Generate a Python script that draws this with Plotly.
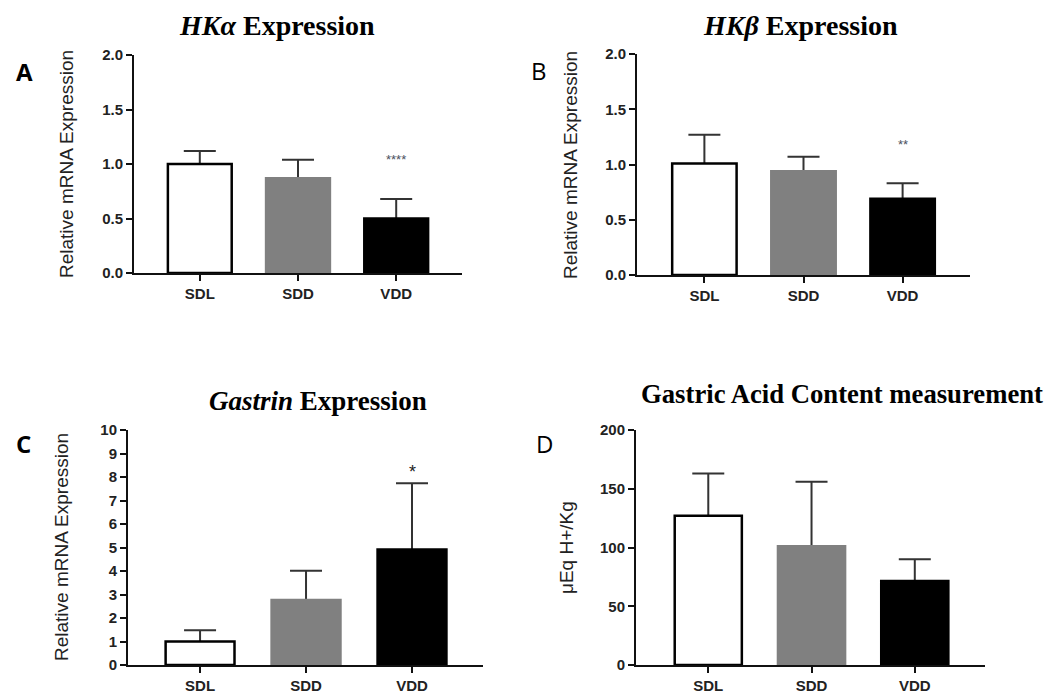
import plotly.graph_objects as go

W, H = 1064, 695

groups = ["SDL", "SDD", "VDD"]
bar_colors = ["#ffffff", "#808080", "#000000"]
line_colors = ["#000000", "#808080", "#000000"]

hka_mean = [1.0, 0.87, 0.50]
hka_err = [0.12, 0.17, 0.18]
hkb_mean = [1.01, 0.94, 0.69]
hkb_err = [0.26, 0.13, 0.14]
gas_mean = [1.0, 2.77, 4.92]
gas_err = [0.48, 1.24, 2.81]
acid_mean = [127, 101, 71.5]
acid_err = [36, 55, 18.5]


def fy(y):
    return 1 - y / H


panels = [
    dict(mean=hka_mean, err=hka_err, yr=[0, 2], dt=0.5, fmt=".1f", box=(134, 462, 55, 273), xr=[-0.67, 2.67]),
    dict(mean=hkb_mean, err=hkb_err, yr=[0, 2], dt=0.5, fmt=".1f", box=(637, 970, 54, 275), xr=[-0.68, 2.68]),
    dict(mean=gas_mean, err=gas_err, yr=[0, 10], dt=1, fmt="d", box=(128, 483, 430, 665), xr=[-0.68, 2.67]),
    dict(mean=acid_mean, err=acid_err, yr=[0, 200], dt=50, fmt="d", box=(636, 985, 430, 665), xr=[-0.70, 2.68]),
]

fig = go.Figure()
layout = {}
tickfont = dict(family="Liberation Sans", size=15, color="#222", weight="bold")
for i, p in enumerate(panels, start=1):
    sx = "" if i == 1 else str(i)
    l, r, t, b = p["box"]
    fig.add_trace(go.Bar(
        x=groups, y=p["mean"], xaxis="x" + sx, yaxis="y" + sx, width=0.65,
        marker=dict(color="rgba(0,0,0,0)", line=dict(width=0)),
        error_y=dict(type="data", array=p["err"], symmetric=True,
                     color="#333333", thickness=2, width=16),
        showlegend=False, hoverinfo="skip",
    ))
    fig.add_trace(go.Bar(
        x=groups, y=p["mean"], xaxis="x" + sx, yaxis="y" + sx, width=0.65,
        marker=dict(color=bar_colors, line=dict(color=line_colors, width=2.5)),
        showlegend=False, hoverinfo="skip",
    ))
    layout["xaxis" + sx] = dict(
        domain=[l / W, r / W], anchor="y" + sx, range=p["xr"], type="category",
        showline=True, linecolor="#111", linewidth=2, ticks="outside", ticklen=6,
        tickwidth=2, tickcolor="#111", tickfont=tickfont, showgrid=False, zeroline=False,
        fixedrange=True, automargin=False,
    )
    layout["yaxis" + sx] = dict(
        domain=[fy(b), fy(t)], anchor="x" + sx, range=p["yr"], dtick=p["dt"],
        tick0=0, tickformat=p["fmt"],
        showline=True, linecolor="#111", linewidth=2, ticks="outside", ticklen=6,
        tickwidth=2, tickcolor="#111", tickfont=tickfont, showgrid=False, zeroline=False,
        fixedrange=True, automargin=False,
    )

ann = []


def pa(text, x, y, size, family, color="#000", angle=0):
    ann.append(dict(text=text, x=x / W, y=fy(y), xref="paper", yref="paper",
                    showarrow=False, textangle=angle, xanchor="center", yanchor="middle",
                    font=dict(size=size, family=family, color=color)))


serif = "Liberation Serif"
pa("<b><i>HKα</i> Expression</b>", 277, 25, 28, serif)
pa("<b><i>HKβ</i> Expression</b>", 800, 25, 28, serif)
pa("<b><i>Gastrin</i> Expression</b>", 318, 401, 27, serif)
pa("<b>Gastric Acid Content measurement</b>", 842, 394, 26.7, serif)

pa("Relative mRNA Expression", 67, 164, 19, "Liberation Sans", color="#222", angle=-90)
pa("Relative mRNA Expression", 571, 165, 19, "Liberation Sans", color="#222", angle=-90)
pa("Relative mRNA Expression", 61, 547, 19, "Liberation Sans", color="#222", angle=-90)
pa("μEq H+/Kg", 566, 548, 19, "Liberation Sans", color="#222", angle=-90)

pa("<b>A</b>", 24, 72, 24, "Open Sans")
pa("B", 539, 71, 24, "Open Sans")
pa("<b>C</b>", 23, 443, 24, "Open Sans")
pa("D", 544, 443, 24, "Open Sans")

ann.append(dict(text="****", x="VDD", y=1.04, xref="x", yref="y", showarrow=False,
                font=dict(size=13, family="Liberation Sans", color="#4a5060")))
ann.append(dict(text="**", x="VDD", y=1.18, xref="x2", yref="y2", showarrow=False,
                font=dict(size=13, family="Liberation Sans", color="#4a5060")))
ann.append(dict(text="*", x="VDD", y=8.2, xref="x3", yref="y3", showarrow=False,
                font=dict(size=18, family="Liberation Sans", color="#222")))

fig.update_layout(
    width=W, height=H, margin=dict(l=0, r=0, t=0, b=0, autoexpand=False),
    paper_bgcolor="white", plot_bgcolor="white", barmode="overlay",
    annotations=ann, **layout,
)
fig.write_html("out.html", config={"displayModeBar": False},
               post_script="document.body.style.margin='0';")
